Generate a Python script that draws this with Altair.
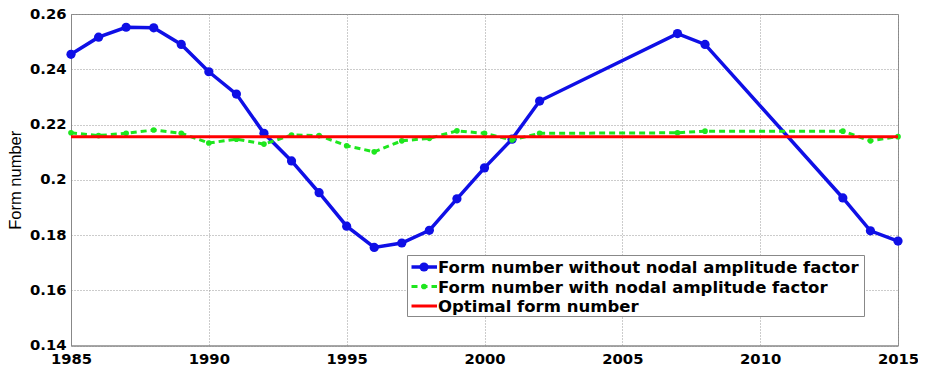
import altair as alt
import pandas as pd

years = [1985, 1986, 1987, 1988, 1989, 1990, 1991, 1992, 1993, 1994, 1995, 1996,
         1997, 1998, 1999, 2000, 2001, 2002, 2007, 2008, 2013, 2014, 2015]
without_nodal = [0.2454, 0.2516, 0.2552, 0.2550, 0.2490, 0.2391, 0.2310, 0.2168,
                 0.2068, 0.1953, 0.1832, 0.1755, 0.1771, 0.1817, 0.1931, 0.2043,
                 0.2147, 0.2285, 0.2529, 0.2490, 0.1934, 0.1815, 0.1778]
with_nodal = [0.2170, 0.2160, 0.2168, 0.2180, 0.2168, 0.2133, 0.2147, 0.2129,
              0.2162, 0.2160, 0.2123, 0.2101, 0.2141, 0.2150, 0.2177, 0.2168,
              0.2144, 0.2168, 0.2170, 0.2176, 0.2176, 0.2141, 0.2156]
opt_years = [1985, 2015]
opt_values = [0.2156, 0.2156]

legend_labels = ["Form number without nodal amplitude factor",
                 "Form number with nodal amplitude factor",
                 "Optimal form number"]

x_ticks = [1985, 1990, 1995, 2000, 2005, 2010, 2015]
y_ticks = [0.14, 0.16, 0.18, 0.2, 0.22, 0.24, 0.26]

BLUE = "#0f0fe6"
GREEN = "#1ee61e"
RED = "#ff0000"

df = pd.DataFrame({"year": years, "without": without_nodal, "with": with_nodal})
df_opt = pd.DataFrame({"year": opt_years, "value": opt_values})

W, H = 827, 331.5

xs = alt.Scale(domain=[1985, 2015], nice=False, zero=False)
ys = alt.Scale(domain=[0.14, 0.26], nice=False, zero=False)

x_axis = alt.Axis(values=x_ticks, format="d", title=None, grid=True,
                  gridDash=[1, 2], gridColor="#999999", tickSize=0,
                  labelPadding=6, labelFont="DejaVu Sans", labelFontWeight="bold",
                  labelFontSize=14.8, labelColor="black", domainColor="#888888",
                  labelFlush=False, labelOverlap=False)
y_axis = alt.Axis(values=y_ticks, format=".2~f", title="Form number", grid=True,
                  gridDash=[1, 2], gridColor="#999999", tickSize=0,
                  labelPadding=5, labelFont="DejaVu Sans", labelFontWeight="bold",
                  labelFontSize=14.8, labelColor="black", domainColor="#888888",
                  titleFont="Liberation Sans", titleFontWeight="normal",
                  titleFontSize=16.5, titleColor="black",
                  titleX=-56, titleY=H / 2, titleAngle=270,
                  titleAlign="center", titleBaseline="middle",
                  labelFlush=False, labelOverlap=False)

base = alt.Chart(df)
blue_line = base.mark_line(color=BLUE, strokeWidth=3.5).encode(
    x=alt.X("year:Q", scale=xs, axis=x_axis),
    y=alt.Y("without:Q", scale=ys, axis=y_axis))
blue_pts = base.mark_circle(color=BLUE, size=85, opacity=1).encode(
    x=alt.X("year:Q", scale=xs), y=alt.Y("without:Q", scale=ys))
green_line = base.mark_line(color=GREEN, strokeWidth=3, strokeDash=[6, 4]).encode(
    x=alt.X("year:Q", scale=xs), y=alt.Y("with:Q", scale=ys))
green_pts = base.mark_circle(color=GREEN, size=32, opacity=1).encode(
    x=alt.X("year:Q", scale=xs), y=alt.Y("with:Q", scale=ys))
red_line = alt.Chart(df_opt).mark_line(color=RED, strokeWidth=3).encode(
    x=alt.X("year:Q", scale=xs), y=alt.Y("value:Q", scale=ys))

# manual legend (decoration)
one = pd.DataFrame({"a": [0]})
lx0, lx1, ly0, ly1 = 336.5, 793.5, 241.5, 302.5
rows = [253, 272.5, 292]
leg = [alt.Chart(one).mark_rect(fill="white", stroke="#888888", strokeWidth=1).encode(
    x=alt.value(lx0), x2=alt.value(lx1), y=alt.value(ly0), y2=alt.value(ly1))]
styles = [(BLUE, 3.5, None, 85), (GREEN, 3, [6, 4], 32), (RED, 3, None, None)]
for lab, ry, (col, sw, dash, msize) in zip(legend_labels, rows, styles):
    kw = dict(color=col, strokeWidth=sw)
    if dash:
        kw["strokeDash"] = dash
    leg.append(alt.Chart(one).mark_rule(**kw).encode(
        x=alt.value(340.5), x2=alt.value(366), y=alt.value(ry)))
    if msize:
        leg.append(alt.Chart(one).mark_circle(color=col, size=msize, opacity=1).encode(
            x=alt.value(353), y=alt.value(ry)))
    leg.append(alt.Chart(one).mark_text(align="left", baseline="middle",
                                        font="DejaVu Sans", fontWeight="bold",
                                        fontSize=16.5, color="black").encode(
        x=alt.value(367), y=alt.value(ry + 1), text=alt.value(lab)))

chart = alt.layer(blue_line, blue_pts, green_line, green_pts, red_line, *leg).properties(
    width=W, height=H,
    autosize=alt.AutoSizeParams(type="none"),
    padding={"left": 63, "top": 6, "right": 20, "bottom": 25},
    background="white",
).configure_view(stroke="#888888", strokeWidth=1)

chart.save("out.html", embed_options={"renderer": "svg", "actions": False})
